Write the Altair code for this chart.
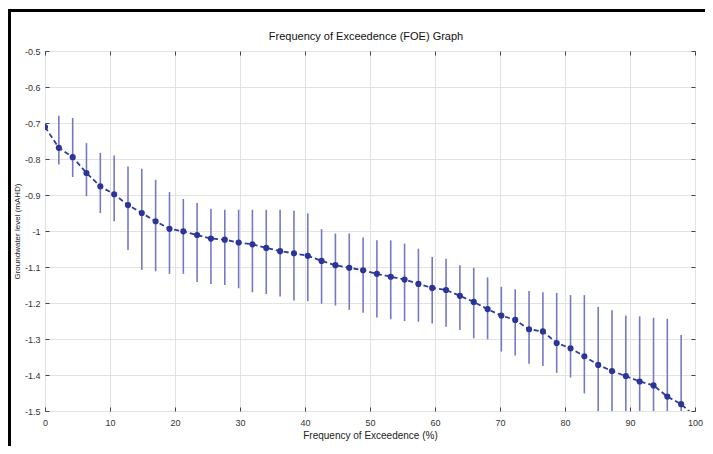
import altair as alt
import pandas as pd

# Frequency of exceedence (%) for each plotted point
freq = [0, 2.13, 4.26, 6.38, 8.51, 10.64, 12.77, 14.89, 17.02, 19.15,
        21.28, 23.40, 25.53, 27.66, 29.79, 31.91, 34.04, 36.17, 38.30, 40.43,
        42.55, 44.68, 46.81, 48.94, 51.06, 53.19, 55.32, 57.45, 59.57, 61.70,
        63.83, 65.96, 68.09, 70.21, 72.34, 74.47, 76.60, 78.72, 80.85, 82.98,
        85.11, 87.23, 89.36, 91.49, 93.62, 95.74, 97.87, 100.0]

# Central level value at each point
level = [-0.711, -0.769, -0.795, -0.839, -0.876, -0.898, -0.928, -0.950, -0.973, -0.994,
         -1.001, -1.011, -1.021, -1.024, -1.032, -1.037, -1.047, -1.056, -1.062, -1.069,
         -1.083, -1.095, -1.102, -1.109, -1.119, -1.127, -1.135, -1.147, -1.158, -1.164,
         -1.180, -1.197, -1.217, -1.235, -1.247, -1.273, -1.279, -1.311, -1.326, -1.348,
         -1.372, -1.389, -1.403, -1.418, -1.429, -1.460, -1.481, -1.515]

# Upper end of each error bar
upper = [-0.711, -0.680, -0.686, -0.756, -0.783, -0.790, -0.821, -0.827, -0.858, -0.892,
         -0.911, -0.922, -0.938, -0.941, -0.941, -0.941, -0.941, -0.941, -0.944, -0.951,
         -0.995, -1.007, -1.007, -1.018, -1.026, -1.026, -1.035, -1.049, -1.072, -1.077,
         -1.095, -1.102, -1.129, -1.155, -1.162, -1.167, -1.170, -1.172, -1.178, -1.178,
         -1.211, -1.220, -1.235, -1.237, -1.241, -1.244, -1.289, -1.515]

# Lower end of each error bar
lower = [-0.711, -0.815, -0.850, -0.903, -0.950, -0.973, -1.053, -1.108, -1.112, -1.119,
         -1.119, -1.142, -1.147, -1.150, -1.159, -1.170, -1.175, -1.182, -1.193, -1.195,
         -1.202, -1.207, -1.219, -1.227, -1.240, -1.245, -1.250, -1.252, -1.257, -1.266,
         -1.275, -1.298, -1.301, -1.335, -1.346, -1.369, -1.375, -1.394, -1.407, -1.451,
         -1.550, -1.560, -1.570, -1.580, -1.600, -1.620, -1.650, -1.515]

x_ticks = [0, 10, 20, 30, 40, 50, 60, 70, 80, 90, 100]
y_ticks = [-0.5, -0.6, -0.7, -0.8, -0.9, -1.0, -1.1, -1.2, -1.3, -1.4, -1.5]

chart_title = ["Frequency of Exceedence (FOE) Graph"]

df = pd.DataFrame({"freq": freq, "level": level, "upper": upper, "lower": lower})
frame_df = pd.DataFrame({"k": [0]})
title_df = pd.DataFrame({"t": chart_title})

FONT = "Liberation Sans"
x_scale = alt.Scale(domain=[0, 100], nice=False, zero=False)
y_scale = alt.Scale(domain=[-1.5, -0.5], nice=False, zero=False)

common = dict(labelFont=FONT, labelFontSize=9, labelColor="#333333",
              titleFont=FONT, titleFontWeight="normal", titleColor="#222222",
              tickColor="#444444", tickSize=4, offset=-4, domain=False,
              gridColor="#e2e2e2", gridWidth=1)

bars = alt.Chart(df).mark_rule(color="#7479c6", strokeWidth=1.6, clip=True).encode(
    x=alt.X("freq:Q", scale=x_scale,
            axis=alt.Axis(values=x_ticks, title="Frequency of Exceedence (%)",
                          titleFontSize=10, labelPadding=7, titlePadding=3,
                          labelFlush=False, grid=True, format="d", **common)),
    y=alt.Y("upper:Q", scale=y_scale,
            axis=alt.Axis(values=y_ticks, title="Groundwater level (mAHD)",
                          titleFontSize=8, labelPadding=5, titlePadding=3,
                          labelExpr="'' + round(datum.value * 10) / 10",
                          grid=True, **common)),
    y2="lower:Q",
)

inner = dict(labels=False, grid=False, domain=False, ticks=True, tickSize=4,
             offset=-4, tickColor="#444444")

line = alt.Chart(df).mark_line(color="#2f3c9e", strokeWidth=1.8,
                               strokeDash=[5, 3], clip=True).encode(
    x=alt.X("freq:Q", scale=x_scale,
            axis=alt.Axis(orient="top", values=x_ticks, title=None, **inner)),
    y=alt.Y("level:Q", scale=y_scale,
            axis=alt.Axis(orient="right", values=y_ticks, title=None, **inner)),
)

points = alt.Chart(df).mark_circle(color="#2a3596", size=38, opacity=1, clip=True).encode(
    x=alt.X("freq:Q", scale=x_scale, axis=None),
    y=alt.Y("level:Q", scale=y_scale, axis=None),
)

title_mark = alt.Chart(title_df).mark_text(
    font=FONT, fontSize=11, color="#111111", align="center", baseline="middle"
).encode(x=alt.value(321), y=alt.value(-14), text="t:N")

frame_top = alt.Chart(frame_df).mark_rule(color="black", strokeWidth=3).encode(
    x=alt.value(-36), x2=alt.value(660), y=alt.value(-40.5))
frame_left = alt.Chart(frame_df).mark_rule(color="black", strokeWidth=3).encode(
    x=alt.value(-35.5), y=alt.value(-42), y2=alt.value(400))

chart = alt.layer(bars, line, points, title_mark, frame_top, frame_left).resolve_axis(
    x="independent", y="independent"
).properties(
    width=650, height=360,
    autosize=alt.AutoSizeParams(type="none"),
    padding={"left": 37, "top": 43, "right": 10, "bottom": 35},
).configure_view(stroke="#555555", strokeWidth=1).configure(background="white")

chart.save("out.html", embed_options={"renderer": "svg", "actions": False})
